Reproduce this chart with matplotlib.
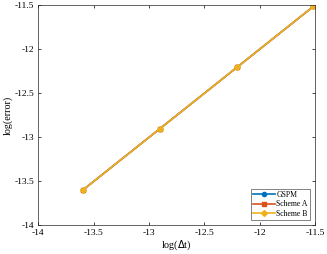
import matplotlib
matplotlib.use("Agg")
import matplotlib.pyplot as plt

# log of time step and log of error for each scheme
log_dt = [-13.592, -12.899, -12.206, -11.513]
err_gspm = [-13.597, -12.903, -12.209, -11.515]
err_a = [-13.597, -12.903, -12.209, -11.515]
err_b = [-13.597, -12.903, -12.209, -11.515]

xticks = [-14, -13.5, -13, -12.5, -12, -11.5]
yticks = [-14, -13.5, -13, -12.5, -12, -11.5]

plt.rcParams['font.family'] = ['Liberation Serif', 'DejaVu Serif']

fig = plt.figure(figsize=(3.27, 2.54), dpi=100)
ax = fig.add_axes([0.117, 0.114, 0.846, 0.866])

ax.plot(log_dt, err_gspm, '-o', color=(0, 0.447, 0.741), lw=1.2, ms=3, label='GSPM')
ax.plot(log_dt, err_a, '-s', color=(0.85, 0.325, 0.098), lw=1.2, ms=3, label='Scheme A')
ax.plot(log_dt, err_b, '-D', color=(0.929, 0.694, 0.125), lw=1.2, ms=3, label='Scheme B')

ax.set_xlim(-14, -11.5)
ax.set_ylim(-14, -11.5)
ax.set_xticks(xticks)
ax.set_yticks(yticks)
ax.set_xticklabels([f'{t:g}' for t in xticks])
ax.set_yticklabels([f'{t:g}' for t in yticks])
ax.tick_params(direction='in', top=True, right=True, labelsize=6.8, length=2.5, width=0.5, pad=3)
for s in ax.spines.values():
    s.set_linewidth(0.5)
    s.set_color('#262626')

ax.set_xlabel(r'log($\Delta$t)', fontsize=7.2, labelpad=1)
ax.set_ylabel('log(error)', fontsize=7.2, labelpad=1)

leg = ax.legend(loc='lower right', fontsize=5.6, frameon=True, fancybox=False,
                edgecolor='#262626', handlelength=2.8, borderpad=0.3, labelspacing=0.2,
                handletextpad=0.2, borderaxespad=0.6)
leg.get_frame().set_linewidth(0.5)

fig.savefig('out.png', dpi=100)
